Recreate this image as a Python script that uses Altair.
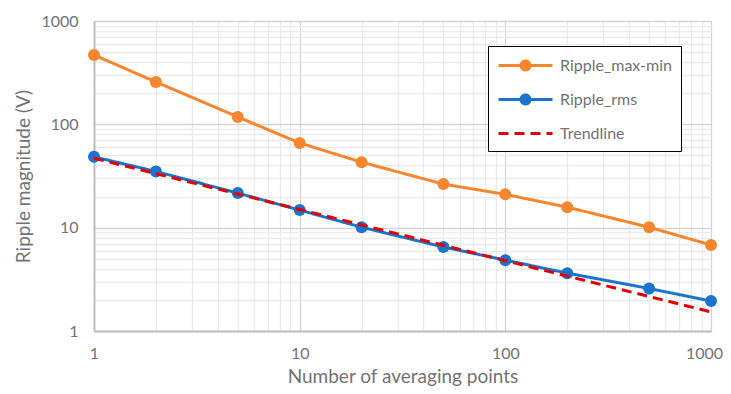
import altair as alt
import pandas as pd

# ---- data ----
x_points = [1, 2, 5, 10, 20, 50, 100, 200, 500, 1000]
ripple_maxmin = [469, 257, 118, 66, 43, 26.4, 21, 15.8, 10.1, 6.8]
ripple_rms = [48.5, 35, 21.6, 14.8, 10.1, 6.5, 4.85, 3.63, 2.58, 1.95]
trend_x = [1, 1000]
trend_y = [47, 1.53]

series_names = ["Ripple_max-min", "Ripple_rms", "Trendline"]
series_colors = ["#F7862E", "#1B74CC", "#E00000"]

grid_values = [1, 2, 3, 4, 5, 6, 7, 8, 9,
               10, 20, 30, 40, 50, 60, 70, 80, 90,
               100, 200, 300, 400, 500, 600, 700, 800, 900, 1000]

rows = []
for xv, yv in zip(x_points, ripple_maxmin):
    rows.append({"series": series_names[0], "x": xv, "y": yv})
for xv, yv in zip(x_points, ripple_rms):
    rows.append({"series": series_names[1], "x": xv, "y": yv})
for xv, yv in zip(trend_x, trend_y):
    rows.append({"series": series_names[2], "x": xv, "y": yv})
df = pd.DataFrame(rows)

FONT = "Lato"
GREY = "#737373"
major_test = "indexof([1,10,100,1000], datum.value) >= 0"
label_expr = f"{major_test} ? format(datum.value, 'd') : ''"

grid_color = {"condition": {"test": major_test, "value": "#D4D4D4"}, "value": "#EBEBEB"}
x_label_offset = {"condition": {"test": "datum.value === 1000", "value": -7}, "value": 0}

x_enc = alt.X(
    "x:Q",
    scale=alt.Scale(type="log", domain=[1, 1000], nice=False),
    axis=alt.Axis(
        values=grid_values, labelExpr=label_expr, grid=True, gridColor=grid_color,
        gridWidth=1.3, ticks=False, domainColor="#BFBFBF", domainWidth=2,
        labelFont=FONT, labelFontSize=16, labelColor=GREY, labelPadding=14,
        labelFlush=False, labelOverlap=False, labelOffset=x_label_offset,
        title="Number of averaging points", titleFont=FONT, titleFontSize=19,
        titleColor=GREY, titleFontWeight="normal", titlePadding=6,
    ),
)
y_enc = alt.Y(
    "y:Q",
    scale=alt.Scale(type="log", domain=[1, 1000], nice=False),
    axis=alt.Axis(
        values=grid_values, labelExpr=label_expr, grid=True, gridColor=grid_color,
        gridWidth=1.3, ticks=False, domainColor="#BFBFBF", domainWidth=2,
        labelFont=FONT, labelFontSize=16, labelColor=GREY, labelPadding=16,
        labelOverlap=False,
        title="Ripple magnitude (V)", titleFont=FONT, titleFontSize=19,
        titleColor=GREY, titleFontWeight="normal", titlePadding=7,
    ),
)

# legend symbols: a line with a (stroked-solid) disc in its middle, or a plain line
def ring(cx, r):
    return f"M{cx + r:.3f},0A{r:.3f},{r:.3f},0,1,1,{cx - r:.3f},0A{r:.3f},{r:.3f},0,1,1,{cx + r:.3f},0"

line_circle = "M-1,0H5" + ring(2, 0.5) + ring(2, 0.333) + ring(2, 0.167)
line_only = "M-1,0H5"

legend = alt.Legend(
    title=None, orient="none", legendX=394, legendY=25,
    strokeColor="black", fillColor="white", padding=9,
    symbolSize=324, symbolStrokeWidth=3,
    labelFont=FONT, labelFontSize=16, labelColor=GREY, labelOffset=42,
    rowPadding=13,
)

color_enc = alt.Color("series:N", scale=alt.Scale(domain=series_names, range=series_colors), legend=legend)
dash_enc = alt.StrokeDash("series:N", scale=alt.Scale(domain=series_names, range=[[1, 0], [1, 0], [10, 6]]), legend=legend)
shape_enc = alt.Shape("series:N", scale=alt.Scale(domain=series_names, range=[line_circle, line_circle, line_only]), legend=legend)

base = alt.Chart(df)

lines = base.transform_filter("datum.series !== 'Trendline'").mark_line(strokeWidth=3).encode(
    x=x_enc, y=y_enc, color=color_enc, strokeDash=dash_enc, order="x:Q"
)
points = base.transform_filter("datum.series !== 'Trendline'").mark_circle(
    size=144, opacity=1
).encode(x=x_enc, y=y_enc, color=color_enc)
trend = base.transform_filter("datum.series === 'Trendline'").mark_line(strokeWidth=3).encode(
    x=x_enc, y=y_enc, color=color_enc, strokeDash=dash_enc
)
legend_layer = base.transform_filter("false").mark_point(filled=False, opacity=1).encode(
    x=x_enc, y=y_enc, color=color_enc, strokeDash=dash_enc, shape=shape_enc
)

chart = alt.layer(lines, points, trend, legend_layer).properties(
    width=617, height=310,
    autosize=alt.AutoSizeParams(type="none"),
    padding={"left": 86, "top": 13, "right": 12, "bottom": 55},
).configure_view(stroke="black", strokeWidth=1.5).configure(background="white")

chart.save("out.html", embed_options={"renderer": "svg", "actions": False})
